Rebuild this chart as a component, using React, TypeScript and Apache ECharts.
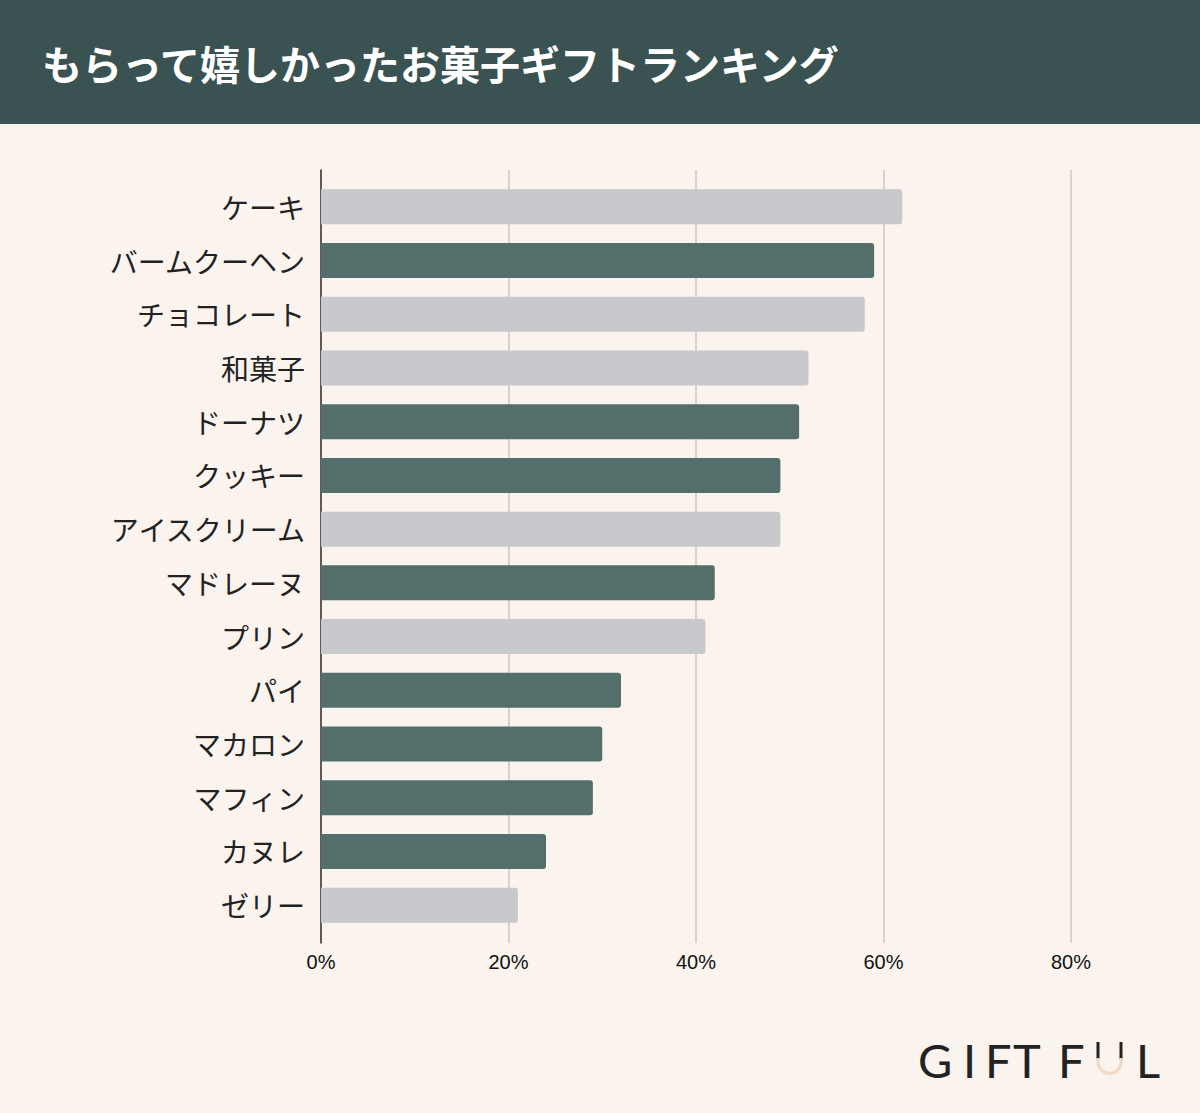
import React, { useEffect, useRef } from "react";
import * as echarts from "echarts";

const title = "もらって嬉しかったお菓子ギフトランキング";
const categories = [
  "ケーキ",
  "バームクーヘン",
  "チョコレート",
  "和菓子",
  "ドーナツ",
  "クッキー",
  "アイスクリーム",
  "マドレーヌ",
  "プリン",
  "パイ",
  "マカロン",
  "マフィン",
  "カヌレ",
  "ゼリー",
];
const values = [62, 59, 58, 52, 51, 49, 49, 42, 41, 32, 30, 29, 24, 21];
const highlighted = [
  "バームクーヘン",
  "ドーナツ",
  "クッキー",
  "マドレーヌ",
  "パイ",
  "マカロン",
  "マフィン",
  "カヌレ",
];
const xTicks = [0, 20, 40, 60, 80];

const DARK = "#546E6C";
const GRAY = "#C9C8CD";
const JP = '"Noto Sans CJK JP", "Noto Sans", sans-serif';

export default function App() {
  const ref = useRef<HTMLDivElement>(null);
  useEffect(() => {
    document.body.style.margin = "0";
    if (!ref.current) return;
    const chart = echarts.init(ref.current, null, { renderer: "svg" });
    const logoFont = { fontFamily: "Lato", fontWeight: 400, fontSize: 47, fill: "#222", verticalAlign: "middle" as const };
    const logoY = 1060;
    const letters: [string, number][] = [
      ["G", 918],
      ["I", 963],
      ["F", 985],
      ["T", 1013],
      ["F", 1058],
      ["L", 1136],
    ];
    chart.setOption({
      animation: false,
      backgroundColor: "#FAF3EE",
      graphic: [
        { type: "rect", shape: { x: 0, y: 0, width: 1200, height: 124 }, style: { fill: "#3A5352" } },
        {
          type: "text",
          x: 42,
          y: 63,
          style: { text: title, fill: "#ffffff", fontSize: 40, fontWeight: "bold", fontFamily: JP, verticalAlign: "middle" },
        },
        ...letters.map(([t, x]) => ({ type: "text", x, y: logoY, style: { ...logoFont, text: t } })),
        { type: "line", shape: { x1: 1098, y1: 1042, x2: 1098, y2: 1059 }, style: { stroke: "#222", lineWidth: 3 } },
        { type: "line", shape: { x1: 1121, y1: 1042, x2: 1121, y2: 1059 }, style: { stroke: "#222", lineWidth: 3 } },
        {
          type: "arc",
          shape: { cx: 1109.5, cy: 1062, r: 11.5, startAngle: 0, endAngle: Math.PI },
          style: { stroke: "#F2D9C4", lineWidth: 3, fill: "none" },
        },
        { type: "line", shape: { x1: 1098, y1: 1058, x2: 1098, y2: 1062 }, style: { stroke: "#F2D9C4", lineWidth: 3 } },
        { type: "line", shape: { x1: 1121, y1: 1058, x2: 1121, y2: 1062 }, style: { stroke: "#F2D9C4", lineWidth: 3 } },
      ],
      grid: [
        { left: 321, top: 170, width: 750, height: 773, containLabel: false },
        { left: 321, top: 180, width: 750, height: 752, containLabel: false },
      ],
      xAxis: [
        {
          gridIndex: 0,
          type: "value",
          min: xTicks[0],
          max: xTicks[xTicks.length - 1],
          interval: xTicks[1] - xTicks[0],
          axisLine: { show: false },
          axisTick: { show: false },
          axisLabel: { formatter: "{value}%", fontSize: 20, color: "#111", margin: 9, fontFamily: '"Liberation Sans", sans-serif' },
          splitLine: { show: true, lineStyle: { color: "#CEC6C6", width: 1.5 } },
        },
        { gridIndex: 1, type: "value", min: xTicks[0], max: xTicks[xTicks.length - 1], show: false },
      ],
      yAxis: [
        {
          gridIndex: 0,
          type: "value",
          min: 0,
          max: 1,
          axisLine: { show: true, lineStyle: { color: "#333", width: 1.5 } },
          axisTick: { show: false },
          axisLabel: { show: false },
          splitLine: { show: false },
        },
        {
          gridIndex: 1,
          type: "category",
          data: categories,
          inverse: true,
          axisLine: { show: false },
          axisTick: { show: false },
          axisLabel: { fontSize: 28, color: "#222", margin: 16, fontFamily: JP, padding: [0, 0, 3, 0] },
          splitLine: { show: false },
        },
      ],
      series: [
        {
          type: "bar",
          xAxisIndex: 1,
          yAxisIndex: 1,
          barWidth: 35,
          data: values.map((v, i) => ({
            value: v,
            itemStyle: { color: highlighted.includes(categories[i]) ? DARK : GRAY, borderRadius: [0, 3, 3, 0] },
          })),
        },
      ],
    });
    return () => chart.dispose();
  }, []);
  return <div ref={ref} style={{ width: 1200, height: 1113 }} />;
}
